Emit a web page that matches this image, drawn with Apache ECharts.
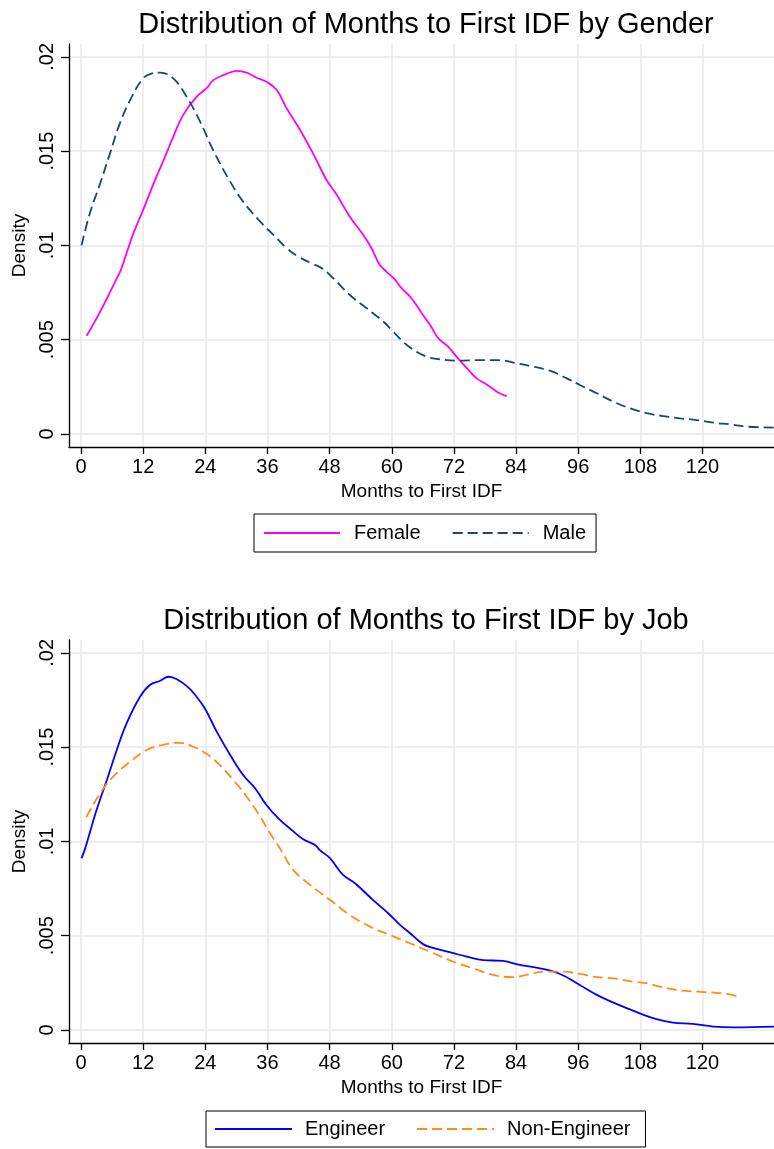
<!DOCTYPE html>
<html>
<head>
<meta charset="utf-8">
<script src="https://cdn.jsdelivr.net/npm/echarts@6/dist/echarts.min.js"></script>
<style>html,body{margin:0;padding:0;background:#fff}#c{width:774px;height:1149px}</style>
</head>
<body>
<div id="c"></div>
<script>
var monthTicks = [0, 12, 24, 36, 48, 60, 72, 84, 96, 108, 120];
var densityTicks = [0, 0.005, 0.01, 0.015, 0.02];

var titleGender = 'Distribution of Months to First IDF by Gender';
var titleJob = 'Distribution of Months to First IDF by Job';
var xTitle = 'Months to First IDF';
var yTitle = 'Density';

var female = [[1.1,.00521],[3.7,.00649],[6.6,.00808],[7.7,.0087],[9.0,.00976],[10.1,.01064],[12.0,.01188],[14.3,.01347],[16.5,.01488],[17.8,.01576],[19.7,.01691],[22.3,.01788],[24.3,.01835],[25.5,.01875],[27.5,.01903],[30.1,.01926],[32.0,.01916],[33.9,.01889],[35.8,.01868],[37.8,.01824],[39.7,.01727],[42.3,.01612],[44.8,.01488],[47.4,.01347],[49.4,.01267],[51.9,.01152],[54.5,.01055],[56.1,.00985],[57.6,.00900],[59.0,.0086],[60.5,.00822],[61.9,.00773],[63.8,.0072],[65.8,.0064],[67.4,.00578],[69.0,.00507],[70.9,.00463],[72.5,.0041],[74.8,.0034],[76.4,.00295],[78.3,.00263],[80.6,.00219],[82.2,.00201]];

var male = [[0.1,.0100],[1.7,.0117],[3.7,.01329],[5.6,.01488],[7.5,.01647],[9.8,.01788],[12.0,.01886],[13.5,.01910],[15.3,.01916],[17.8,.01886],[20.4,.01788],[23.0,.01656],[25.5,.01506],[28.8,.01338],[31.3,.01232],[34.6,.01126],[37.8,.01038],[39.7,.00985],[42.0,.00940],[44.5,.00905],[46.5,.00879],[48.7,.00826],[51.9,.00737],[55.2,.00666],[58.4,.00595],[60.0,.00551],[62.9,.00472],[66.7,.0041],[69.3,.00396],[72.5,.00389],[77.0,.00392],[80.9,.00392],[83.5,.00378],[87.3,.00357],[90.5,.00336],[93.8,.00295],[96.3,.0026],[99.6,.00216],[102.8,.00171],[106.0,.00136],[109.2,.0011],[112.4,.00095],[115.6,.00083],[118.9,.00074],[122.1,.0006],[125.3,.00051],[128.5,.00039],[133.8,.00034]];

var engineer = [[0.1,.0091],[0.8,.00963],[3.0,.01166],[5.0,.01326],[6.9,.01485],[8.8,.01626],[11.4,.01767],[13.3,.01829],[15.3,.01852],[16.9,.01873],[18.5,.0186],[20.7,.01817],[22.3,.01767],[23.9,.01706],[26.2,.01582],[28.8,.01458],[31.3,.01352],[33.6,.01282],[35.8,.01193],[38.1,.01122],[40.7,.0106],[42.9,.01011],[45.2,.00981],[46.1,.00954],[48.1,.0091],[50.6,.00822],[52.9,.00778],[56.4,.00689],[59.3,.00619],[61.6,.00557],[63.2,.00521],[66.1,.00454],[68.3,.00433],[71.9,.00407],[74.5,.00389],[77.7,.00371],[81.5,.00366],[84.7,.00345],[88.6,.00327],[92.5,.00297],[96.3,.00239],[99.6,.00186],[102.8,.00145],[107.9,.00088],[111.1,.00057],[114.3,.00039],[118.1,.00032],[122.1,.00018],[126.0,.00014],[133.8,.00018]];

var nonEngineer = [[1.0,.01128],[3.7,.01255],[6.2,.01343],[9.5,.01423],[12.7,.01485],[16.5,.01516],[19.1,.01523],[21.7,.01502],[24.3,.01463],[26.8,.01405],[29.4,.01326],[32.0,.01237],[34.6,.01131],[36.5,.01043],[38.4,.00963],[41.0,.00848],[44.2,.0077],[48.1,.00689],[51.9,.0061],[55.8,.00548],[59.6,.00504],[63.5,.0046],[67.4,.00415],[71.9,.00362],[75.7,.00327],[79.6,.00292],[83.5,.0028],[86.0,.00292],[89.3,.00309],[93.1,.00309],[96.3,.00297],[99.6,.0028],[102.8,.00274],[106.6,.00256],[109.2,.00248],[111.8,.0023],[115.0,.00212],[118.9,.00203],[122.1,.00198],[124.7,.00191],[126.9,.00177]];

var FONT = 'Liberation Sans, Arial, Helvetica, sans-serif';
var gridColor = '#e8e8e8';

function yFmt(v) {
  if (v === 0) return '0';
  return String(+v.toFixed(4)).replace(/^0\./, '.');
}

function xAxisCfg(idx) {
  return {
    type: 'value', gridIndex: idx, min: -2.32, max: 133.8,
    name: xTitle, nameLocation: 'middle', nameGap: 35,
    nameTextStyle: { fontFamily: FONT, fontSize: 19, color: '#000' },
    axisLine: { show: true, onZero: false, lineStyle: { color: '#000', width: 1.3 } },
    axisTick: { show: true, length: 7, customValues: monthTicks, lineStyle: { color: '#000', width: 1.3 } },
    axisLabel: { customValues: monthTicks, fontFamily: FONT, fontSize: 20, color: '#000', margin: 10 },
    splitLine: { show: true, lineStyle: { color: gridColor, width: 1.5 } }
  };
}
function yAxisCfg(idx) {
  return {
    type: 'value', gridIndex: idx, min: -0.00069, max: 0.02068,
    name: yTitle, nameLocation: 'middle', nameGap: 40, nameRotate: 90,
    nameTextStyle: { fontFamily: FONT, fontSize: 19, color: '#000' },
    axisLine: { show: true, onZero: false, lineStyle: { color: '#000', width: 1.3 } },
    axisTick: { show: true, length: 8, customValues: densityTicks, lineStyle: { color: '#000', width: 1.3 } },
    axisLabel: { customValues: densityTicks, rotate: 90, fontFamily: FONT, fontSize: 20, color: '#000', margin: 12, formatter: yFmt },
    splitLine: { show: true, lineStyle: { color: gridColor, width: 1.5 } }
  };
}

var chart = echarts.init(document.getElementById('c'), null, { renderer: 'canvas' });
chart.setOption({
  animation: false,
  backgroundColor: '#fff',
  title: [
    { text: titleGender, left: 421, top: 5, textAlign: 'center', textStyle: { fontFamily: FONT, fontSize: 29, fontWeight: 'normal', color: '#000' } },
    { text: titleJob, left: 421, top: 601, textAlign: 'center', textStyle: { fontFamily: FONT, fontSize: 29, fontWeight: 'normal', color: '#000' } }
  ],
  grid: [
    { left: 69, top: 44, width: 705, height: 403 },
    { left: 69, top: 640, width: 705, height: 403 }
  ],
  xAxis: [xAxisCfg(0), xAxisCfg(1)],
  yAxis: [yAxisCfg(0), yAxisCfg(1)],
  legend: [
    { data: ['Female', 'Male'], left: 254, top: 514, orient: 'horizontal',
      itemWidth: 76, itemHeight: 14, itemGap: 31,
      padding: [9, 10, 9, 9], borderColor: '#000', borderWidth: 1,
      itemStyle: { opacity: 0 },
      textStyle: { fontFamily: FONT, fontSize: 20, color: '#000', padding: [0, 0, 0, 9] } },
    { data: ['Engineer', 'Non-Engineer'], left: 206, top: 1111, orient: 'horizontal',
      itemWidth: 77, itemHeight: 14, itemGap: 31,
      padding: [8, 15, 8, 8], borderColor: '#000', borderWidth: 1,
      itemStyle: { opacity: 0 },
      textStyle: { fontFamily: FONT, fontSize: 20, color: '#000', padding: [0, 0, 0, 8] } }
  ],
  series: [
    { name: 'Female', type: 'line', xAxisIndex: 0, yAxisIndex: 0, data: female, symbol: 'none', smooth: 0.4,
      lineStyle: { color: '#ff00ff', width: 1.8 }, itemStyle: { color: '#ff00ff' } },
    { name: 'Male', type: 'line', xAxisIndex: 0, yAxisIndex: 0, data: male, symbol: 'none', smooth: 0.4,
      lineStyle: { color: '#1a476f', width: 1.8, type: [10, 5] }, itemStyle: { color: '#1a476f' } },
    { name: 'Engineer', type: 'line', xAxisIndex: 1, yAxisIndex: 1, data: engineer, symbol: 'none', smooth: 0.4,
      lineStyle: { color: '#0000ff', width: 1.8 }, itemStyle: { color: '#0000ff' } },
    { name: 'Non-Engineer', type: 'line', xAxisIndex: 1, yAxisIndex: 1, data: nonEngineer, symbol: 'none', smooth: 0.4,
      lineStyle: { color: '#ff8c1a', width: 1.8, type: [10, 5] }, itemStyle: { color: '#ff8c1a' } }
  ]
});
</script>
</body>
</html>
